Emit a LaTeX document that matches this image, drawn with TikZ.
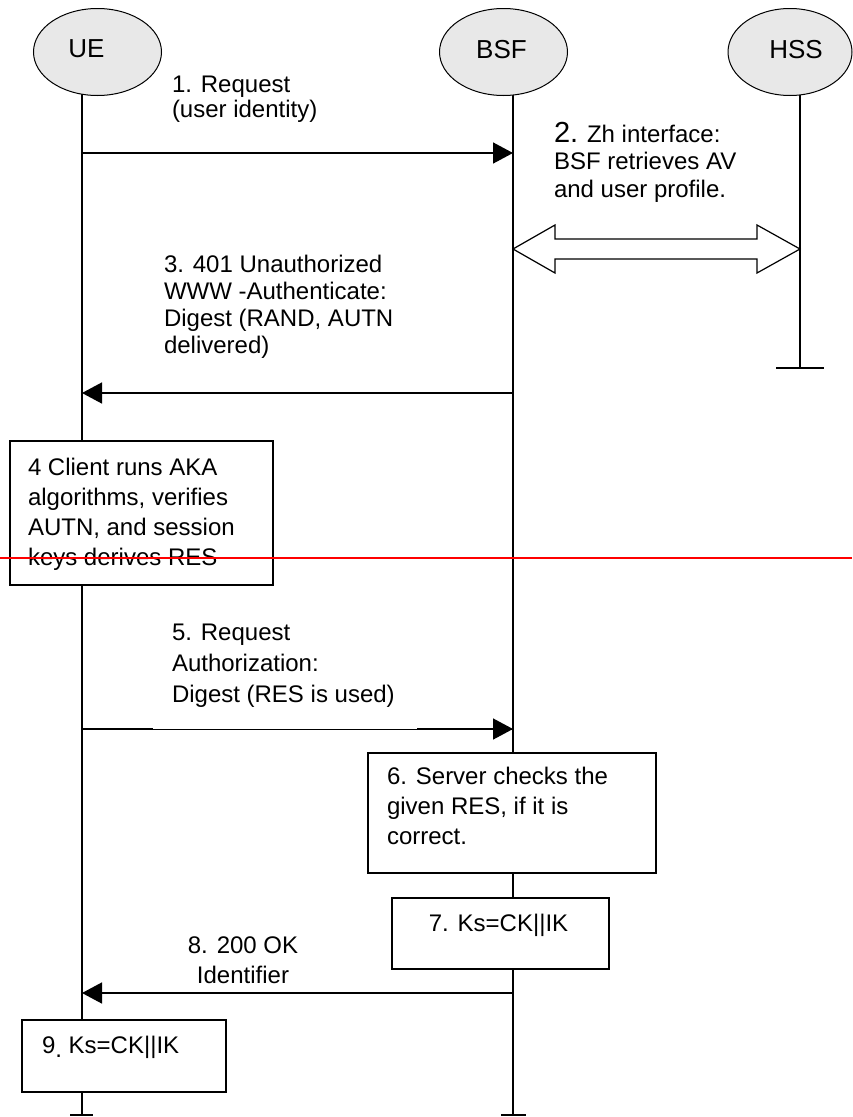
\documentclass[tikz,border=0pt]{standalone}
\usepackage{fontspec}
\setmainfont{Liberation Sans}
\usetikzlibrary{shapes.geometric,arrows.meta,calc}
\definecolor{entfill}{RGB}{232,232,232}

\begin{document}
\begin{tikzpicture}[x=1pt,y=-1pt,
  every node/.style={inner sep=0pt, outer sep=0pt},
  entity/.style={ellipse, draw=black, line width=1pt, fill=entfill,
    minimum width=128pt, minimum height=87pt,
    font=\fontsize{26}{30}\selectfont},
  life/.style={line width=1.3pt},
  msg/.style={line width=1.5pt, -{Triangle[length=20pt,width=21pt]}},
  stepbox/.style={draw=black, line width=1.3pt, fill=white, anchor=north west},
  % multi-line labels are placed by the baseline of their last line
  lbl/.style={align=left, anchor=base west},
  txt/.style={font=\fontsize{24}{#1}\selectfont},
]
\useasboundingbox (0,0) rectangle (852,1117);

% lifeline end points
\coordinate (ueTop)  at (82,90);
\coordinate (ueBot)  at (82,1115);
\coordinate (bsfTop) at (513,90);
\coordinate (bsfBot) at (513,1115);
\coordinate (hssTop) at (800,90);
\coordinate (hssBot) at (800,368);

% lifelines with end ticks
\draw[life] (ueTop) -- (ueBot);
\draw[life] ($(ueBot)+(-12,0)$) -- ($(ueBot)+(11,0)$);
\draw[life] (bsfTop) -- (bsfBot);
\draw[life] ($(bsfBot)+(-12,0)$) -- ($(bsfBot)+(13,0)$);
\draw[life] (hssTop) -- (hssBot);
\draw[life] ($(hssBot)+(-24,0)$) -- ($(hssBot)+(24,0)$);

% entities (names set slightly off-centre inside their ellipses)
\node[entity] (ue)  at (97.5,52) {\raisebox{6pt}{UE}\hspace{22pt}\mbox{}};
\node[entity] (bsf) at (503.5,52) {\raisebox{6pt}{BSF}\hspace{4pt}\mbox{}};
\node[entity, minimum width=124pt] (hss) at (790,52) {\hspace{12pt}\raisebox{6pt}{HSS}};

% processing boxes
\node[stepbox, minimum width=263pt, minimum height=144pt] (b4) at (10,441) {};
\node[stepbox, minimum width=288pt, minimum height=120pt] (b6) at (368,753) {};
\node[stepbox, minimum width=217pt, minimum height=71pt]  (b7) at (392,898) {};
\node[stepbox, minimum width=204pt, minimum height=72pt]  (b9) at (22,1020) {};

% message 1
\coordinate (m1s) at (82,153);
\coordinate (m1e) at (513,153);
\draw[msg] (m1s) -- (m1e);
\node[lbl, txt=25] (l1) at (172,117) {1. Request\\(user identity)};

% message 2: Zh interface (double block arrow)
\coordinate (m2s) at (513,249);
\coordinate (m2e) at (800,249);
\draw[line width=1.2pt, fill=white, line join=miter]
  (m2s) -- ++(42,-24) -- ++(0,14) -- ($(m2e)+(-43,-10)$) -- ++(0,-14)
  -- (m2e) -- ++(-43,24) -- ++(0,-14) -- ($(m2s)+(42,10)$) -- ++(0,14) -- cycle;
\node[lbl, txt=27] (l2) at (554,197)
  {{\fontsize{29}{29}\selectfont 2.} Zh interface:\\BSF retrieves AV\\[1pt]and user profile.};

% message 3
\coordinate (m3s) at (513,393);
\coordinate (m3e) at (82,393);
\draw[msg] (m3s) -- (m3e);
\node[lbl, txt=27] (l3) at (164,353)
  {3. 401 Unauthorized\\WWW -Authenticate:\\Digest (RAND, AUTN\\delivered)};

% step 4
\node[lbl, txt=30] (t4) at (28,565)
  {4 Client runs AKA\\algorithms, verifies\\AUTN, and session\\keys derives RES};

% message 5
\coordinate (m5s) at (82,729);
\coordinate (m5a) at (153,729);
\coordinate (m5b) at (417,729);
\coordinate (m5e) at (513,729);
\draw[line width=0.7pt] (m5s) -- (m5e);
\draw[line width=1.5pt] (m5s) -- (m5a);
\draw[msg] (m5b) -- (m5e);
\node[lbl, txt=31] (l5) at (172,702)
  {5. Request\\Authorization:\\Digest (RES is used)};

% step 6
\node[lbl, txt=30] (t6) at (387,844)
  {6. Server checks the\\given RES, if it is\\correct.};

% step 7
\node[anchor=base, txt=30] (t7) at (498.5,931) {7. Ks=CK||IK};

% message 8
\coordinate (m8s) at (513,993);
\coordinate (m8e) at (82,993);
\draw[msg] (m8s) -- (m8e);
\node[align=center, anchor=base, txt=30] (l8) at (243,983) {8. 200 OK\\Identifier};

% step 9
\node[anchor=base west, txt=30] (t9) at (42,1053) {9\raisebox{-4pt}{.} Ks=CK||IK};

% red rule across the page
\coordinate (redL) at (0,558);
\coordinate (redR) at (852,558);
\draw[red, line width=1.5pt] (redL) -- (redR);
\end{tikzpicture}
\end{document}
